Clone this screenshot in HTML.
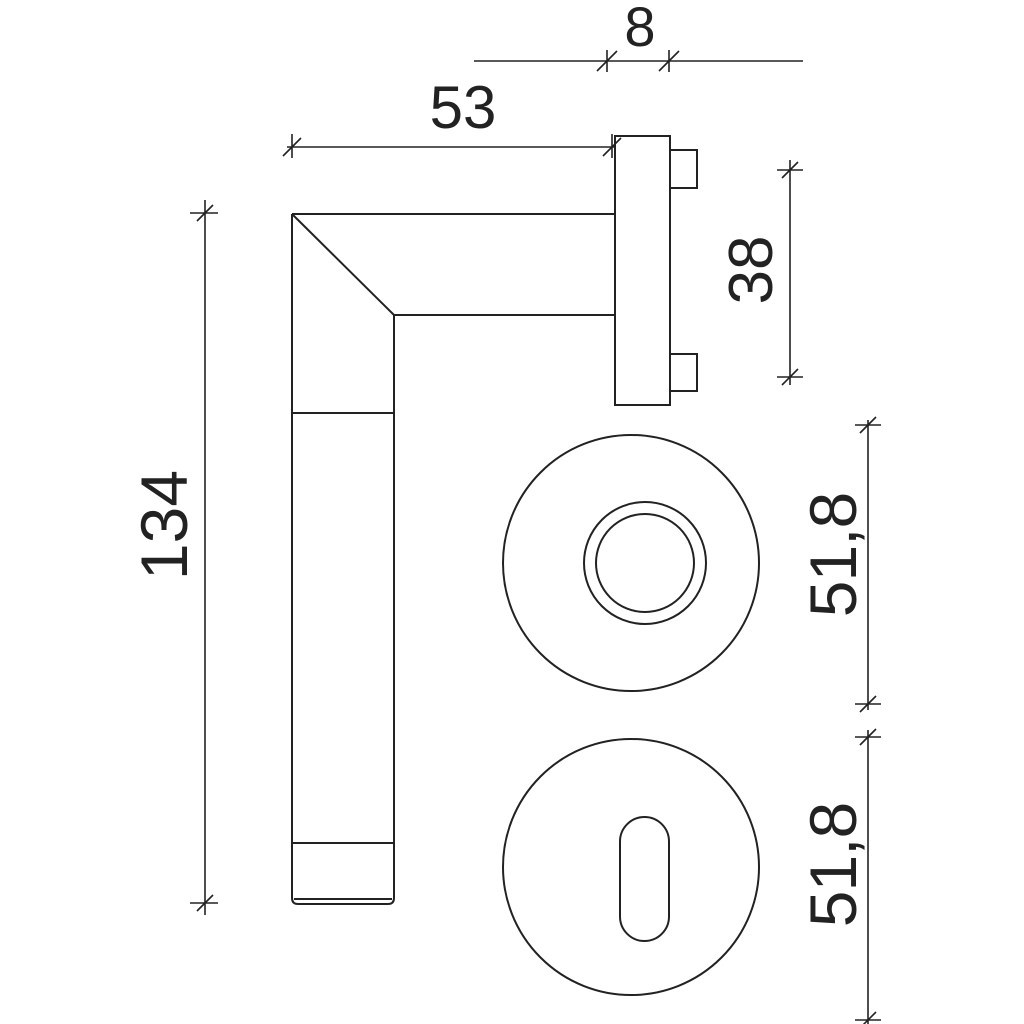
<!DOCTYPE html>
<html><head><style>body{margin:0;background:#fff}svg{display:block}text{font-family:"Liberation Sans",sans-serif;fill:#222}</style></head>
<body>
<svg width="1024" height="1024" viewBox="0 0 1024 1024" xmlns="http://www.w3.org/2000/svg">
<g fill="none" stroke="#222" stroke-width="2">
<!-- handle -->
<path d="M292,214 L615,214 M394,315 L615,315 M292,214 L394,315"/>
<path d="M292,214 L292,898 Q292,904 298,904 L388,904 Q394,904 394,898 L394,315"/>
<path d="M292,413 L394,413 M292,843 L394,843 M294,899 L392,899"/>
<!-- rose -->
<rect x="615" y="136" width="55" height="269"/>
<rect x="670" y="150" width="27" height="38"/>
<rect x="670" y="354" width="27" height="37"/>
<!-- circles -->
<circle cx="631" cy="563" r="128"/>
<circle cx="645" cy="563" r="61"/>
<circle cx="645" cy="563" r="49"/>
<circle cx="631" cy="867" r="128"/>
<rect x="620" y="817" width="49" height="124" rx="24.5"/>
</g>
<g fill="none" stroke="#222" stroke-width="1.6">
<!-- 8 -->
<path d="M474,61 L803,61 M607,50 L607,72 M669,50 L669,72 M597,71 L617,51 M659,71 L679,51"/>
<!-- 53 -->
<path d="M287,147 L615,147 M292,134 L292,158 M612,134 L612,158 M283,156 L301,138 M603,156 L621,138"/>
<!-- 134 -->
<path d="M205,200 L205,915 M190,213 L218,213 M190,903 L218,903 M197,221 L213,205 M197,911 L213,895"/>
<!-- 38 -->
<path d="M790,160 L790,385 M777,170 L803,170 M777,377 L803,377 M782,178 L798,162 M782,385 L798,369"/>
<!-- 51,8 -->
<path d="M868,420 L868,710 M855,425 L881,425 M855,704 L881,704 M860,433 L876,417 M860,712 L876,696"/>
<path d="M868,730 L868,1024 M855,737 L881,737 M855,1020 L881,1020 M860,745 L876,729 M860,1028 L876,1012"/>
</g>
<text x="463" y="128" font-size="60" text-anchor="middle">53</text>
<text x="640" y="46" font-size="56" text-anchor="middle">8</text>
<text transform="translate(187,525) rotate(-90)" font-size="66" text-anchor="middle">134</text>
<text transform="translate(772,270) rotate(-90)" font-size="62" text-anchor="middle">38</text>
<text transform="translate(856,555) rotate(-90)" font-size="66" text-anchor="middle" letter-spacing="-1">51,8</text>
<text transform="translate(856,865) rotate(-90)" font-size="66" text-anchor="middle" letter-spacing="-1">51,8</text>
</svg>
</body></html>
